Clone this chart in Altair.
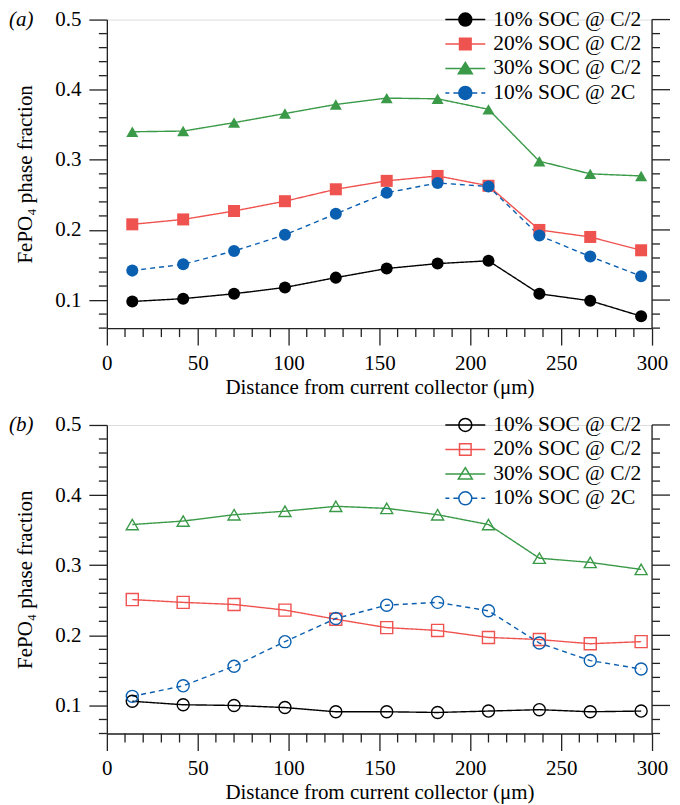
import altair as alt
import pandas as pd

# ---------------- data ----------------
x_um = [14, 42, 70, 98, 126, 154, 182, 210, 238, 266, 294]
series_names = ["10% SOC @ C/2", "20% SOC @ C/2", "30% SOC @ C/2", "10% SOC @ 2C"]
series_colors = ["#000000", "#ef5350", "#3a9a48", "#0b5fb0"]

a_10_c2 = [0.098, 0.102, 0.109, 0.118, 0.132, 0.145, 0.152, 0.156, 0.109, 0.099, 0.077]
a_20_c2 = [0.208, 0.215, 0.227, 0.241, 0.258, 0.270, 0.277, 0.263, 0.200, 0.190, 0.171]
a_30_c2 = [0.340, 0.341, 0.353, 0.366, 0.379, 0.388, 0.387, 0.372, 0.298, 0.280, 0.277]
a_10_2c = [0.142, 0.151, 0.170, 0.193, 0.223, 0.253, 0.267, 0.262, 0.192, 0.162, 0.134]

b_10_c2 = [0.106, 0.101, 0.100, 0.097, 0.091, 0.091, 0.090, 0.092, 0.094, 0.091, 0.092]
b_20_c2 = [0.251, 0.247, 0.244, 0.236, 0.223, 0.211, 0.207, 0.197, 0.194, 0.188, 0.191]
b_30_c2 = [0.358, 0.363, 0.372, 0.377, 0.384, 0.381, 0.372, 0.358, 0.310, 0.304, 0.294]
b_10_2c = [0.113, 0.128, 0.156, 0.191, 0.224, 0.243, 0.247, 0.235, 0.189, 0.164, 0.152]

x_major_ticks = [0, 50, 100, 150, 200, 250, 300]
x_minor_ticks = [10, 20, 30, 40, 60, 70, 80, 90, 110, 120, 130, 140, 160, 170, 180, 190,
                 210, 220, 230, 240, 260, 270, 280, 290]
y_major_ticks = [0.1, 0.2, 0.3, 0.4, 0.5]
y_minor_ticks = [0.06, 0.08, 0.12, 0.14, 0.16, 0.18, 0.22, 0.24, 0.26, 0.28,
                 0.32, 0.34, 0.36, 0.38, 0.42, 0.44, 0.46, 0.48]

FONT = "Liberation Serif"
AX = "#222222"

# legend symbols: line + marker (unit = 10 px at symbolSize 400)
circ = "M-0.65,0A0.65,0.65 0 1,0 0.65,0A0.65,0.65 0 1,0 -0.65,0Z"
sq = "M-0.58,-0.58H0.58V0.58H-0.58Z"
tri = "M0,-0.62L0.7,0.52H-0.7Z"
solid = "M-2,0H2"
dashed = "M-2,0H-1.6M-1.2,0H-0.7M0.7,0H1.2M1.6,0H2"
legend_paths = [solid + circ, solid + sq, solid + tri, dashed + circ]


def make_df(cols):
    rows = []
    for name, ys in zip(series_names, cols):
        for xv, yv in zip(x_um, ys):
            rows.append({"x": xv, "y": yv, "series": name})
    return pd.DataFrame(rows)


def panel(cols, filled, tag):
    df = make_df(cols)
    xs = alt.Scale(domain=[0, 300], nice=False, zero=False)
    ys = alt.Scale(domain=[0.06, 0.5], nice=False, zero=False)
    cs = alt.Scale(domain=series_names, range=series_colors)
    shp = alt.Scale(domain=series_names, range=["circle", "square", "triangle-up", "circle"])
    dsh = alt.Scale(domain=series_names, range=[[1, 0], [1, 0], [1, 0], [5, 4]])
    lsh = alt.Scale(domain=series_names, range=legend_paths)

    x_major = alt.Axis(values=x_major_ticks, orient="bottom", tickSize=17, tickWidth=1.3,
                       domainWidth=1.3, domainColor=AX, tickColor=AX, grid=False,
                       labelFont=FONT, labelFontSize=21, labelColor="black", labelPadding=7,
                       labelFlush=False, labelOverlap=False,
                       title="Distance from current collector (μm)", titleFont=FONT,
                       titleFontSize=21, titleFontWeight="normal", titleColor="black",
                       titlePadding=3)
    y_major = alt.Axis(values=y_major_ticks, orient="left", format=".1f", tickSize=18,
                       tickWidth=1.3, domainWidth=1.3, domainColor=AX, tickColor=AX,
                       grid=False, labelFont=FONT, labelFontSize=21, labelColor="black",
                       labelPadding=8, labelFlush=False, labelOverlap=False,
                       title="FePO\u2084 phase fraction", titleFont=FONT, titleFontSize=21,
                       titleFontWeight="normal", titleColor="black", titlePadding=19)

    def X(field):
        return alt.X(field, scale=xs, axis=x_major)

    def Y(field):
        return alt.Y(field, scale=ys, axis=y_major)

    base = alt.Chart(df)
    lines = base.mark_line(strokeWidth=1.4).encode(
        x=X("x:Q"), y=Y("y:Q"),
        color=alt.Color("series:N", scale=cs, legend=None),
        strokeDash=alt.StrokeDash("series:N", scale=dsh, legend=None),
    )
    points = base.mark_point(filled=filled, size=145, strokeWidth=1.4, opacity=1).encode(
        x=X("x:Q"), y=Y("y:Q"),
        color=alt.Color("series:N", scale=cs, legend=None),
        shape=alt.Shape("series:N", scale=shp, legend=None),
    )

    # minor ticks and mirrored right axis, positioned through the shared scales
    def hticks(vals, edge, length):
        return alt.Chart(pd.DataFrame({"v": vals})).transform_calculate(
            edge=str(edge)).mark_rule(strokeWidth=1.3, color=AX, x2Offset=length).encode(
            x=X("edge:Q"), x2="edge:Q", y=Y("v:Q"))

    def vticks(vals, edge, length):
        return alt.Chart(pd.DataFrame({"v": vals})).transform_calculate(
            edge=str(edge)).mark_rule(strokeWidth=1.3, color=AX, y2Offset=length).encode(
            y=Y("edge:Q"), y2="edge:Q", x=X("v:Q"))

    left_minor = hticks(y_minor_ticks, 0, -8)
    right_major = hticks(y_major_ticks, 300, 18)
    right_minor = hticks(y_minor_ticks, 300, 8)
    bottom_minor = vticks(x_minor_ticks, 0.06, 9)
    right_domain = alt.Chart(pd.DataFrame({"edge": [300]})).transform_calculate(
        lo="0.06", hi="0.5").mark_rule(strokeWidth=1.3, color=AX).encode(
        x=X("edge:Q"), y=Y("lo:Q"), y2="hi:Q")

    leg = alt.Legend(title=None, orient="none", legendX=348, legendY=-11, symbolSize=400,
                     symbolStrokeWidth=1.5, symbolOpacity=1, labelFont=FONT,
                     labelFontSize=21.5, labelColor="black", labelOffset=17, rowPadding=2.5,
                     padding=0, labelLimit=400)
    if filled:
        legend_layer = base.transform_filter("false").mark_point(
            filled=True, strokeWidth=1.5, opacity=1).encode(
            fill=alt.Fill("series:N", scale=cs, legend=leg),
            stroke=alt.Stroke("series:N", scale=cs, legend=leg),
            shape=alt.Shape("series:N", scale=lsh, legend=leg),
        )
    else:
        legend_layer = base.transform_filter("false").mark_point(
            filled=False, strokeWidth=1.5, opacity=1).encode(
            stroke=alt.Stroke("series:N", scale=cs, legend=leg),
            shape=alt.Shape("series:N", scale=lsh, legend=leg),
        )
    label = alt.Chart(pd.DataFrame({"t": [tag]})).mark_text(
        align="left", baseline="middle", font=FONT, fontSize=21, fontStyle="italic",
        color="black").encode(x=alt.value(-98), y=alt.value(0), text="t:N")

    return alt.layer(lines, points, left_minor, bottom_minor, right_domain, right_major,
                     right_minor, legend_layer, label).resolve_scale(
        color="independent", shape="independent", fill="independent",
        stroke="independent", strokeDash="independent"
    ).properties(width=546, height=309)


chart = alt.vconcat(
    panel([a_10_c2, a_20_c2, a_30_c2, a_10_2c], True, "(a)"),
    panel([b_10_c2, b_20_c2, b_30_c2, b_10_2c], False, "(b)"),
    spacing=15,
).properties(
    padding={"left": 0, "top": -1, "right": 0, "bottom": 0}
).configure_view(strokeWidth=0).configure(background="white")

chart.save("out.html", embed_options={"renderer": "svg", "actions": False})
